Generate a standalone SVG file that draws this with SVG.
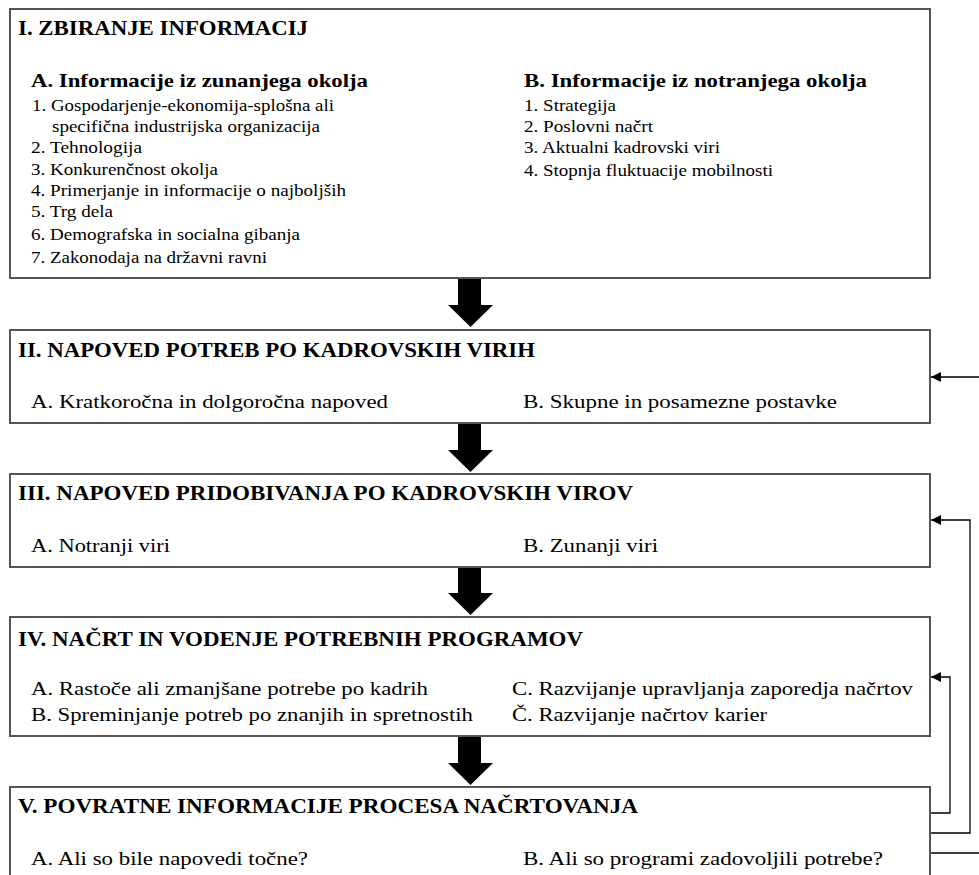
<svg xmlns="http://www.w3.org/2000/svg" width="979" height="875" viewBox="0 0 979 875">
<defs>
<style>
.box{fill:#fff;stroke:#555;stroke-width:2}
.h{font-family:"Liberation Serif","Times New Roman",serif;font-weight:bold;font-size:20px;fill:#000}
.sh{font-family:"Liberation Serif","Times New Roman",serif;font-weight:bold;font-size:19px;fill:#000}
.t{font-family:"Liberation Serif","Times New Roman",serif;font-size:19px;fill:#000}
.s{font-family:"Liberation Serif","Times New Roman",serif;font-size:16px;fill:#000}
.blk{fill:#000;stroke:none}
.fb{fill:none;stroke:#000;stroke-width:1.3}
</style>
<marker id="ah" viewBox="0 0 10 10" refX="10" refY="5" markerWidth="10" markerHeight="10" markerUnits="userSpaceOnUse" orient="auto">
<path d="M0,0 L10,5 L0,10 Z" fill="#000"/>
</marker>
</defs>

<g id="node-1">
<rect class="box" x="10" y="9" width="920" height="269"/>
<text class="h" x="18" y="35" textLength="290" lengthAdjust="spacingAndGlyphs">I. ZBIRANJE INFORMACIJ</text>
<text class="sh" x="31" y="87" textLength="337" lengthAdjust="spacingAndGlyphs">A. Informacije iz zunanjega okolja</text>
<text class="s" x="32" y="111" textLength="302" lengthAdjust="spacingAndGlyphs">1. Gospodarjenje-ekonomija-splošna ali</text>
<text class="s" x="52" y="132" textLength="268" lengthAdjust="spacingAndGlyphs">specifična industrijska organizacija</text>
<text class="s" x="31" y="153" textLength="111" lengthAdjust="spacingAndGlyphs">2. Tehnologija</text>
<text class="s" x="31" y="175" textLength="187" lengthAdjust="spacingAndGlyphs">3. Konkurenčnost okolja</text>
<text class="s" x="31" y="196" textLength="315" lengthAdjust="spacingAndGlyphs">4. Primerjanje in informacije o najboljših</text>
<text class="s" x="31" y="217" textLength="82" lengthAdjust="spacingAndGlyphs">5. Trg dela</text>
<text class="s" x="31" y="240" textLength="269" lengthAdjust="spacingAndGlyphs">6. Demografska in socialna gibanja</text>
<text class="s" x="31" y="263" textLength="236" lengthAdjust="spacingAndGlyphs">7. Zakonodaja na državni ravni</text>
<text class="sh" x="524" y="87" textLength="343" lengthAdjust="spacingAndGlyphs">B. Informacije iz notranjega okolja</text>
<text class="s" x="524" y="111" textLength="92" lengthAdjust="spacingAndGlyphs">1. Strategija</text>
<text class="s" x="524" y="132" textLength="129" lengthAdjust="spacingAndGlyphs">2. Poslovni načrt</text>
<text class="s" x="524" y="153" textLength="196" lengthAdjust="spacingAndGlyphs">3. Aktualni kadrovski viri</text>
<text class="s" x="524" y="176" textLength="249" lengthAdjust="spacingAndGlyphs">4. Stopnja fluktuacije mobilnosti</text>
</g>

<g id="node-2">
<rect class="box" x="10" y="330" width="920" height="93"/>
<text class="h" x="18" y="357" textLength="517" lengthAdjust="spacingAndGlyphs">II. NAPOVED POTREB PO KADROVSKIH VIRIH</text>
<text class="t" x="31" y="408" textLength="357" lengthAdjust="spacingAndGlyphs">A. Kratkoročna in dolgoročna napoved</text>
<text class="t" x="523" y="408" textLength="314" lengthAdjust="spacingAndGlyphs">B. Skupne in posamezne postavke</text>
</g>

<g id="node-3">
<rect class="box" x="10" y="474" width="920" height="93"/>
<text class="h" x="18" y="500" textLength="615" lengthAdjust="spacingAndGlyphs">III. NAPOVED PRIDOBIVANJA PO KADROVSKIH VIROV</text>
<text class="t" x="31" y="552" textLength="139" lengthAdjust="spacingAndGlyphs">A. Notranji viri</text>
<text class="t" x="523" y="552" textLength="135" lengthAdjust="spacingAndGlyphs">B. Zunanji viri</text>
</g>

<g id="node-4">
<rect class="box" x="10" y="617" width="920" height="119"/>
<text class="h" x="18" y="646" textLength="565" lengthAdjust="spacingAndGlyphs">IV. NAČRT IN VODENJE POTREBNIH PROGRAMOV</text>
<text class="t" x="31" y="695" textLength="397" lengthAdjust="spacingAndGlyphs">A. Rastoče ali zmanjšane potrebe po kadrih</text>
<text class="t" x="31" y="721" textLength="442" lengthAdjust="spacingAndGlyphs">B. Spreminjanje potreb po znanjih in spretnostih</text>
<text class="t" x="512" y="695" textLength="401" lengthAdjust="spacingAndGlyphs">C. Razvijanje upravljanja zaporedja načrtov</text>
<text class="t" x="512" y="721" textLength="255" lengthAdjust="spacingAndGlyphs">Č. Razvijanje načrtov karier</text>
</g>

<g id="node-5">
<rect class="box" x="10" y="787" width="920" height="110"/>
<text class="h" x="18" y="813" textLength="620" lengthAdjust="spacingAndGlyphs">V. POVRATNE INFORMACIJE PROCESA NAČRTOVANJA</text>
<text class="t" x="31" y="865" textLength="277" lengthAdjust="spacingAndGlyphs">A. Ali so bile napovedi točne?</text>
<text class="t" x="523" y="865" textLength="360" lengthAdjust="spacingAndGlyphs">B. Ali so programi zadovoljili potrebe?</text>
</g>

<g id="connectors">
<path class="blk" d="M458,279 H481 V305 H493 L470.5,327 L448,305 H458 Z"/>
<path class="blk" d="M458,424 H481 V450 H493 L470.5,472 L448,450 H458 Z"/>
<path class="blk" d="M458,568 H481 V593 H493 L470.5,615 L448,593 H458 Z"/>
<path class="blk" d="M458,737 H481 V763 H493 L470.5,785 L448,763 H458 Z"/>
<path class="fb" d="M931,813 H950 V677 H931" marker-end="url(#ah)"/>
<path class="fb" d="M931,833 H970 V520 H931" marker-end="url(#ah)"/>
<path class="fb" d="M931,853 H990 V377 H931" marker-end="url(#ah)"/>
</g>
</svg>
